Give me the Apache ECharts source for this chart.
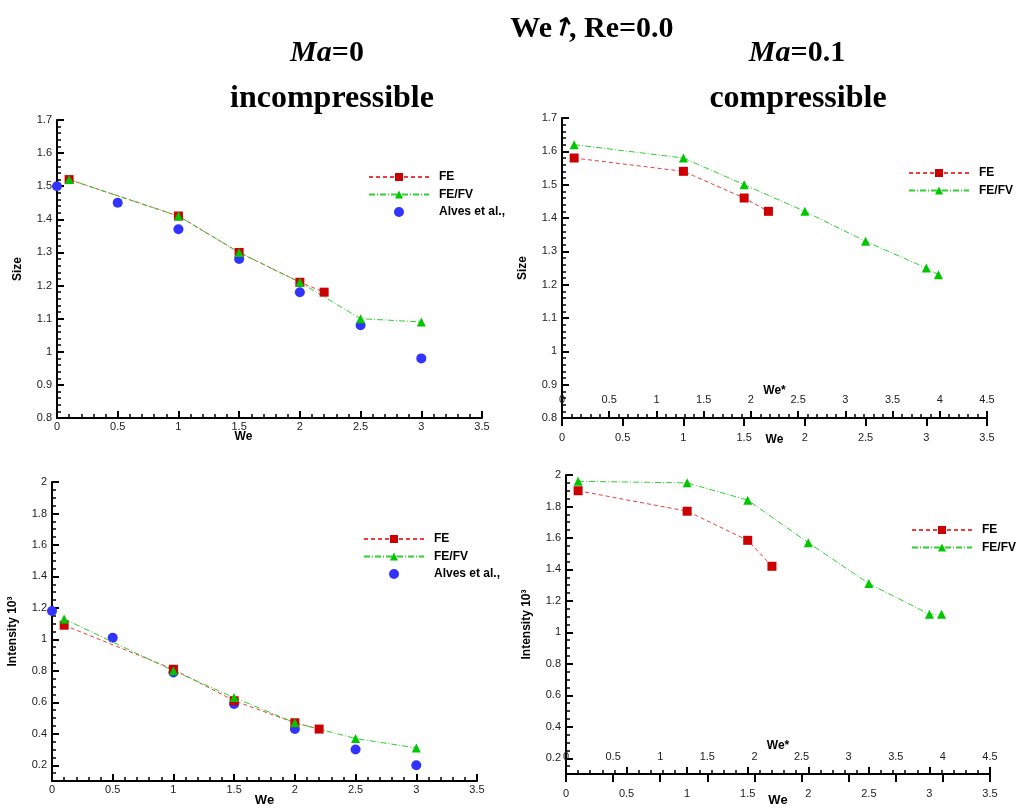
<!DOCTYPE html>
<html><head><meta charset="utf-8">
<script src="https://cdn.jsdelivr.net/npm/echarts@6/dist/echarts.min.js"></script>
<style>html,body{margin:0;padding:0;background:#fff}#c{width:1022px;height:810px}</style>
</head><body><div id="c"></div>
<script>
// ---------- data ----------
const seriesNames = ['FE', 'FE/FV', 'Alves et al.,'];

// top-left : Ma=0, Size vs We
const tlWeFE = [0.1, 1, 1.5, 2, 2.2];
const tlSizeFE = [1.52, 1.41, 1.30, 1.21, 1.18];
const tlWeFV = [0.1, 1, 1.5, 2, 2.5, 3];
const tlSizeFV = [1.52, 1.41, 1.30, 1.21, 1.10, 1.09];
const tlWeAlves = [0, 0.5, 1, 1.5, 2, 2.5, 3];
const tlSizeAlves = [1.50, 1.45, 1.37, 1.28, 1.18, 1.08, 0.98];

// top-right : Ma=0.1, Size vs We
const trWeFE = [0.1, 1, 1.5, 1.7];
const trSizeFE = [1.58, 1.54, 1.46, 1.42];
const trWeFV = [0.1, 1, 1.5, 2, 2.5, 3, 3.1];
const trSizeFV = [1.62, 1.58, 1.50, 1.42, 1.33, 1.25, 1.23];

// bottom-left : Ma=0, Intensity vs We
const blWeFE = [0.1, 1, 1.5, 2, 2.2];
const blIntFE = [1.09, 0.81, 0.61, 0.47, 0.43];
const blWeFV = [0.1, 1, 1.5, 2, 2.5, 3];
const blIntFV = [1.13, 0.80, 0.63, 0.47, 0.37, 0.31];
const blWeAlves = [0, 0.5, 1, 1.5, 2, 2.5, 3];
const blIntAlves = [1.18, 1.01, 0.79, 0.59, 0.43, 0.30, 0.20];

// bottom-right : Ma=0.1, Intensity vs We
const brWeFE = [0.1, 1, 1.5, 1.7];
const brIntFE = [1.90, 1.77, 1.585, 1.42];
const brWeFV = [0.1, 1, 1.5, 2, 2.5, 3, 3.1];
const brIntFV = [1.96, 1.95, 1.84, 1.57, 1.31, 1.115, 1.115];

// tick values
const intensityMajorTicks = [0.2, 0.4, 0.6, 0.8, 1, 1.2, 1.4, 1.6, 1.8, 2];
const intensityMinorTicks = [0.1, 0.15, 0.25, 0.3, 0.35, 0.45, 0.5, 0.55, 0.65, 0.7, 0.75, 0.85, 0.9, 0.95,
  1.05, 1.1, 1.15, 1.25, 1.3, 1.35, 1.45, 1.5, 1.55, 1.65, 1.7, 1.75, 1.85, 1.9, 1.95];

// ---------- helpers ----------
const zip = (xs, ys) => xs.map((x, i) => [x, ys[i]]);
const LBL = { fontFamily: 'Liberation Sans, Arial', fontSize: 11, color: '#222' };
const NAME = { fontFamily: 'Liberation Sans, Arial', fontSize: 12, fontWeight: 'bold', color: '#000' };
const AXLINE = { show: true, lineStyle: { color: '#000', width: 2 } };

function xAxisCfg(o) {
  return Object.assign({
    type: 'value', position: 'bottom', splitLine: { show: false },
    axisLine: AXLINE,
    axisTick: { show: true, inside: true, length: 7, lineStyle: { color: '#000', width: 2 } },
    minorTick: { show: true, splitNumber: 5, length: 4, lineStyle: { color: '#000', width: 1.5 } },
    axisLabel: Object.assign({ margin: 3 }, LBL),
    nameLocation: 'middle', nameMoveOverlap: false, nameTextStyle: NAME
  }, o);
}
function yAxisCfg(o) {
  return Object.assign({
    type: 'value', position: 'left', splitLine: { show: false },
    axisLine: AXLINE,
    axisTick: { show: true, inside: true, length: 7, lineStyle: { color: '#000', width: 2 } },
    axisLabel: Object.assign({ margin: 5 }, LBL),
    nameLocation: 'middle', nameMoveOverlap: false, nameGap: 33, nameTextStyle: NAME
  }, o);
}

const FE_STYLE = {
  type: 'line', symbol: 'rect', symbolSize: 9,
  itemStyle: { color: '#cc0000' },
  lineStyle: { color: '#ee3b3b', width: 1, type: [4, 3] }
};
const FV_STYLE = {
  type: 'line', symbol: 'triangle', symbolSize: 9,
  itemStyle: { color: '#00c800' },
  lineStyle: { color: '#2fd02f', width: 1, type: [6, 2, 1, 2] }
};
const AL_STYLE = {
  type: 'scatter', symbol: 'circle', symbolSize: 10,
  itemStyle: { color: '#3333ff', opacity: 1 }
};
function s(style, name, xi, yi, data) {
  return Object.assign({}, style, { name, xAxisIndex: xi, yAxisIndex: yi, data, animation: false });
}

const legendBase = {
  orient: 'vertical', itemWidth: 60, itemHeight: 10, itemGap: 5.5, padding: 0,
  textStyle: { fontFamily: 'Liberation Sans, Arial', fontSize: 12, fontWeight: 'bold', color: '#000', padding: [0, 0, 0, 5], lineHeight: 11 },
  selectedMode: false
};

const titleFont = 'Liberation Serif, Times New Roman, serif';
function heading(x, y, text, size, align) {
  return {
    type: 'text', x, y, silent: true,
    style: {
      text, textAlign: align || 'center', textVerticalAlign: 'middle', fill: '#000',
      fontFamily: titleFont, fontWeight: 'bold', fontSize: size,
      rich: {
        i: { fontFamily: titleFont, fontStyle: 'italic', fontWeight: 'bold', fontSize: size, fill: '#000' },
        n: { fontFamily: titleFont, fontWeight: 'bold', fontSize: size, fill: '#000' }
      }
    }
  };
}

const option = {
  backgroundColor: '#fff',
  animation: false,
  graphic: [
    heading(552, 29, 'We', 30, 'right'),
    { type: 'text', x: 563, y: 29, rotation: -0.28, silent: true,
      style: { text: '↑', textAlign: 'center', textVerticalAlign: 'middle', fill: '#000',
        fontFamily: 'DejaVu Sans', fontWeight: 'bold', fontSize: 26 } },
    heading(569, 29, ', Re=0.0', 30, 'left'),
    heading(327, 53, '{i|Ma}{n|=0}', 30),
    heading(797, 53, '{i|Ma}{n|=0.1}', 30),
    heading(332, 99, 'incompressible', 32),
    heading(798, 99, 'compressible', 32)
  ],
  grid: [
    { left: 57, top: 120, width: 425, height: 298 },
    { left: 562, top: 118, width: 425, height: 300 },
    { left: 52, top: 482, width: 425, height: 299 },
    { left: 566, top: 475, width: 424, height: 299 }
  ],
  xAxis: [
    xAxisCfg({ gridIndex: 0, min: 0, max: 3.5, interval: 0.5, name: 'We', nameGap: 13,
      nameTextStyle: Object.assign({}, NAME, { padding: [0, 52, 0, 0] }) }),
    xAxisCfg({ gridIndex: 1, min: 0, max: 4.5, interval: 0.5, name: 'We*', nameGap: -33,
      axisLabel: Object.assign({ inside: true, margin: 13 }, LBL) }),
    xAxisCfg({ gridIndex: 1, min: 0, max: 3.5, interval: 0.5, name: 'We', nameGap: 16,
      axisTick: { show: true, inside: false, length: 8, lineStyle: { color: '#000', width: 2 } },
      minorTick: { show: false },
      axisLabel: Object.assign({ margin: 14 }, LBL) }),
    xAxisCfg({ gridIndex: 2, min: 0, max: 3.5, interval: 0.5, name: 'We', nameGap: 13,
      nameTextStyle: Object.assign({}, NAME, { fontSize: 13 }) }),
    xAxisCfg({ gridIndex: 3, min: 0, max: 4.5, interval: 0.5, name: 'We*', nameGap: -34,
      axisTick: { show: true, inside: false, length: 8, lineStyle: { color: '#000', width: 2 } },
      minorTick: { show: false },
      axisLabel: Object.assign({ inside: true, margin: 12 }, LBL) }),
    xAxisCfg({ gridIndex: 3, min: 0, max: 3.5, interval: 0.5, name: 'We', nameGap: 20,
      nameTextStyle: Object.assign({}, NAME, { fontSize: 13 }),
      axisLabel: Object.assign({ margin: 14 }, LBL) })
  ],
  yAxis: [
    yAxisCfg({ gridIndex: 0, min: 0.8, max: 1.7, interval: 0.1, name: 'Size',
      minorTick: { show: true, splitNumber: 5, length: 4, lineStyle: { color: '#000', width: 1.5 } } }),
    yAxisCfg({ gridIndex: 1, min: 0.8, max: 1.7, interval: 0.1, name: 'Size',
      minorTick: { show: true, splitNumber: 5, length: 4, lineStyle: { color: '#000', width: 1.5 } } }),
    yAxisCfg({ gridIndex: 2, min: 0.1, max: 2, name: 'Intensity 10³',
      axisTick: { show: true, inside: true, length: 7, customValues: intensityMajorTicks, lineStyle: { color: '#000', width: 2 } },
      axisLabel: Object.assign({ margin: 5, customValues: intensityMajorTicks }, LBL) }),
    yAxisCfg({ gridIndex: 2, min: 0.1, max: 2, axisLine: { show: false }, axisLabel: { show: false },
      axisTick: { show: true, inside: true, length: 4, customValues: intensityMinorTicks, lineStyle: { color: '#000', width: 1.5 } } }),
    yAxisCfg({ gridIndex: 3, min: 0.1, max: 2, name: 'Intensity 10³',
      axisTick: { show: true, inside: true, length: 7, customValues: intensityMajorTicks, lineStyle: { color: '#000', width: 2 } },
      axisLabel: Object.assign({ margin: 5, customValues: intensityMajorTicks }, LBL) }),
    yAxisCfg({ gridIndex: 3, min: 0.1, max: 2, axisLine: { show: false }, axisLabel: { show: false },
      axisTick: { show: true, inside: true, length: 4, customValues: intensityMinorTicks, lineStyle: { color: '#000', width: 1.5 } } })
  ],
  legend: [
    Object.assign({}, legendBase, { left: 368, top: 171, data: seriesNames }),
    Object.assign({}, legendBase, { left: 908, top: 167, data: seriesNames.slice(0, 2) }),
    Object.assign({}, legendBase, { left: 363, top: 533, data: seriesNames }),
    Object.assign({}, legendBase, { left: 911, top: 524, data: seriesNames.slice(0, 2) })
  ],
  series: [
    s(FE_STYLE, 'FE', 0, 0, zip(tlWeFE, tlSizeFE)),
    s(FV_STYLE, 'FE/FV', 0, 0, zip(tlWeFV, tlSizeFV)),
    s(AL_STYLE, 'Alves et al.,', 0, 0, zip(tlWeAlves, tlSizeAlves)),

    s(FE_STYLE, 'FE', 2, 1, zip(trWeFE, trSizeFE)),
    s(FV_STYLE, 'FE/FV', 2, 1, zip(trWeFV, trSizeFV)),

    s(FE_STYLE, 'FE', 3, 2, zip(blWeFE, blIntFE)),
    s(FV_STYLE, 'FE/FV', 3, 2, zip(blWeFV, blIntFV)),
    s(AL_STYLE, 'Alves et al.,', 3, 2, zip(blWeAlves, blIntAlves)),

    s(FE_STYLE, 'FE', 5, 4, zip(brWeFE, brIntFE)),
    s(FV_STYLE, 'FE/FV', 5, 4, zip(brWeFV, brIntFV))
  ]
};

const chart = echarts.init(document.getElementById('c'), null, { renderer: 'canvas' });
chart.setOption(option);
</script>
</body></html>
